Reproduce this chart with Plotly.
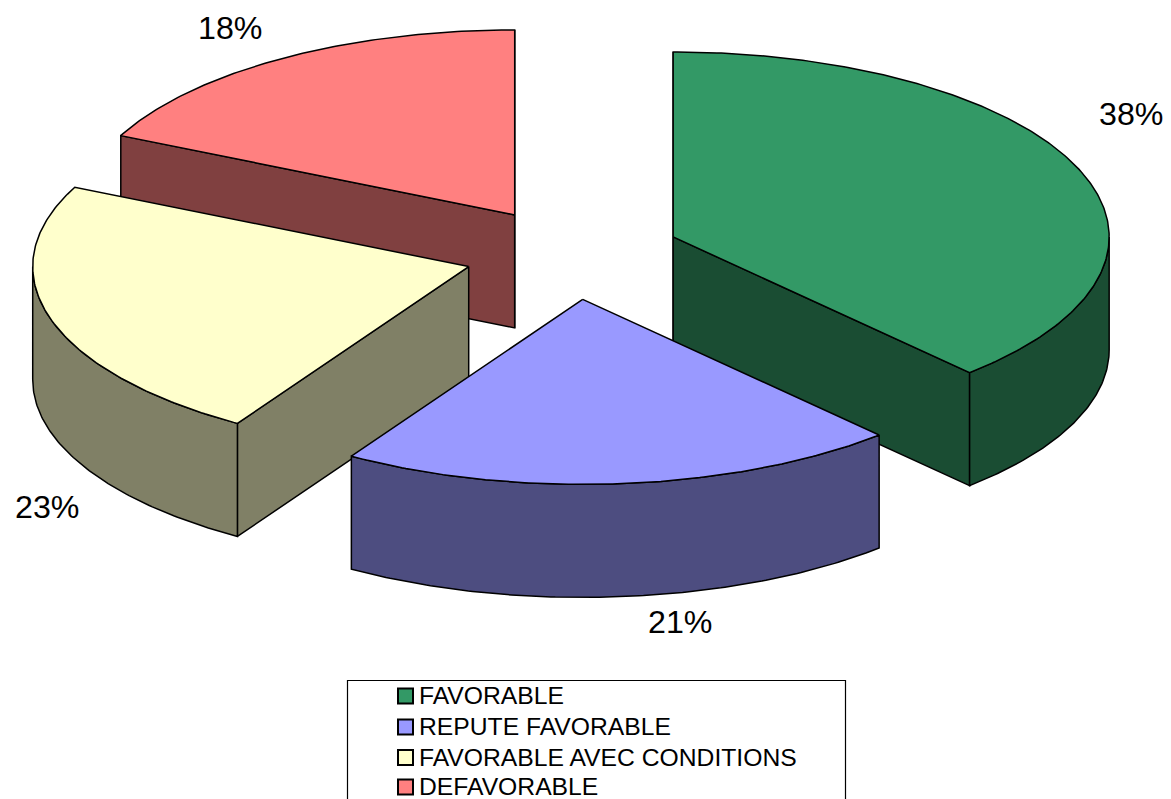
import numpy as np
import plotly.graph_objects as go

categories = ["FAVORABLE", "REPUTE FAVORABLE", "FAVORABLE AVEC CONDITIONS", "DEFAVORABLE"]
values = [38.1, 20.8, 23.15, 17.95]
labels = ["38%", "21%", "23%", "18%"]
top_colors = ["#339966", "#9999FF", "#FFFFCC", "#FF8080"]
side_colors = ["#1A4D33", "#4D4D80", "#808066", "#804040"]
draw_order = [3, 2, 0, 1]

CX, CY, A, B, DEPTH, EXPLODE = 572.5, 253.7, 436.0, 185.0, 113.0, 0.248
W, H = 1171, 799
LW = 1.5
FONT = "Liberation Sans, Arial, sans-serif"

fractions = np.array(values) / sum(values)
ends = np.cumsum(fractions) * 2 * np.pi
starts = ends - fractions * 2 * np.pi


def arc(c, t0, t1, dy=0.0):
    t = np.linspace(t0, t1, max(2, int(abs(t1 - t0) / 0.01)))
    return c[0] + A * np.sin(t), c[1] - B * np.cos(t) + dy


def poly(fig, x, y, color):
    fig.add_trace(go.Scatter(
        x=list(x), y=list(y), mode="lines", fill="toself", fillcolor=color,
        line=dict(color="black", width=LW), hoverinfo="skip", showlegend=False))


fig = go.Figure()
for i in draw_order:
    t0, t1 = starts[i], ends[i]
    mid = (t0 + t1) / 2
    c = (CX + EXPLODE * A * np.sin(mid), CY - EXPLODE * B * np.cos(mid))
    # radial walls: the start edge shows when it points left, the end edge when it points right
    for t, sign in ((t0, -1), (t1, 1)):
        s = np.sin(t)
        if abs(s) < 1e-6 or s * sign > 0:
            ex, ey = c[0] + A * s, c[1] - B * np.cos(t)
            poly(fig, [c[0], ex, ex, c[0], c[0]],
                 [c[1], ey, ey + DEPTH, c[1] + DEPTH, c[1]], side_colors[i])
    # outer wall: only the near half of the rim
    a0, a1 = max(t0, np.pi / 2), min(t1, 3 * np.pi / 2)
    if a1 > a0:
        x1, y1 = arc(c, a0, a1)
        x2, y2 = arc(c, a1, a0, DEPTH)
        poly(fig, np.r_[x1, x2, x1[0]], np.r_[y1, y2, y1[0]], side_colors[i])
    # top
    x, y = arc(c, t0, t1)
    poly(fig, np.r_[c[0], x, c[0]], np.r_[c[1], y, c[1]], top_colors[i])

label_pos = [(1131, 114), (680, 622), (46.5, 507), (230, 28)]
annotations = [dict(x=p[0], y=p[1], text=t, showarrow=False, xanchor="center", yanchor="middle",
                    font=dict(family=FONT, size=32.2, color="black"))
               for p, t in zip(label_pos, labels)]

shapes = [dict(type="rect", x0=347.5, x1=845.5, y0=680.5, y1=830, line=dict(color="black", width=1.2),
               fillcolor="white", layer="below")]
legend_y = [696, 727, 757.5, 787]
for name, color, y in zip(categories, top_colors, legend_y):
    shapes.append(dict(type="rect", x0=398, x1=413, y0=y - 7.5, y1=y + 7.5,
                       line=dict(color="black", width=2), fillcolor=color))
    annotations.append(dict(x=419, y=y - 0.5, text=name, showarrow=False, xanchor="left", yanchor="middle",
                            xshift=-2, font=dict(family=FONT, size=24.7, color="black")))

axis = dict(visible=False, fixedrange=True)
fig.update_layout(
    width=W, height=H, margin=dict(l=0, r=0, t=0, b=0),
    paper_bgcolor="white", plot_bgcolor="white", showlegend=False,
    xaxis=dict(range=[0, W], **axis), yaxis=dict(range=[H, 0], **axis),
    annotations=annotations, shapes=shapes)
fig.write_html("out.html", config={"displayModeBar": False},
               post_script="document.body.style.margin='0';document.body.style.overflow='hidden';")
